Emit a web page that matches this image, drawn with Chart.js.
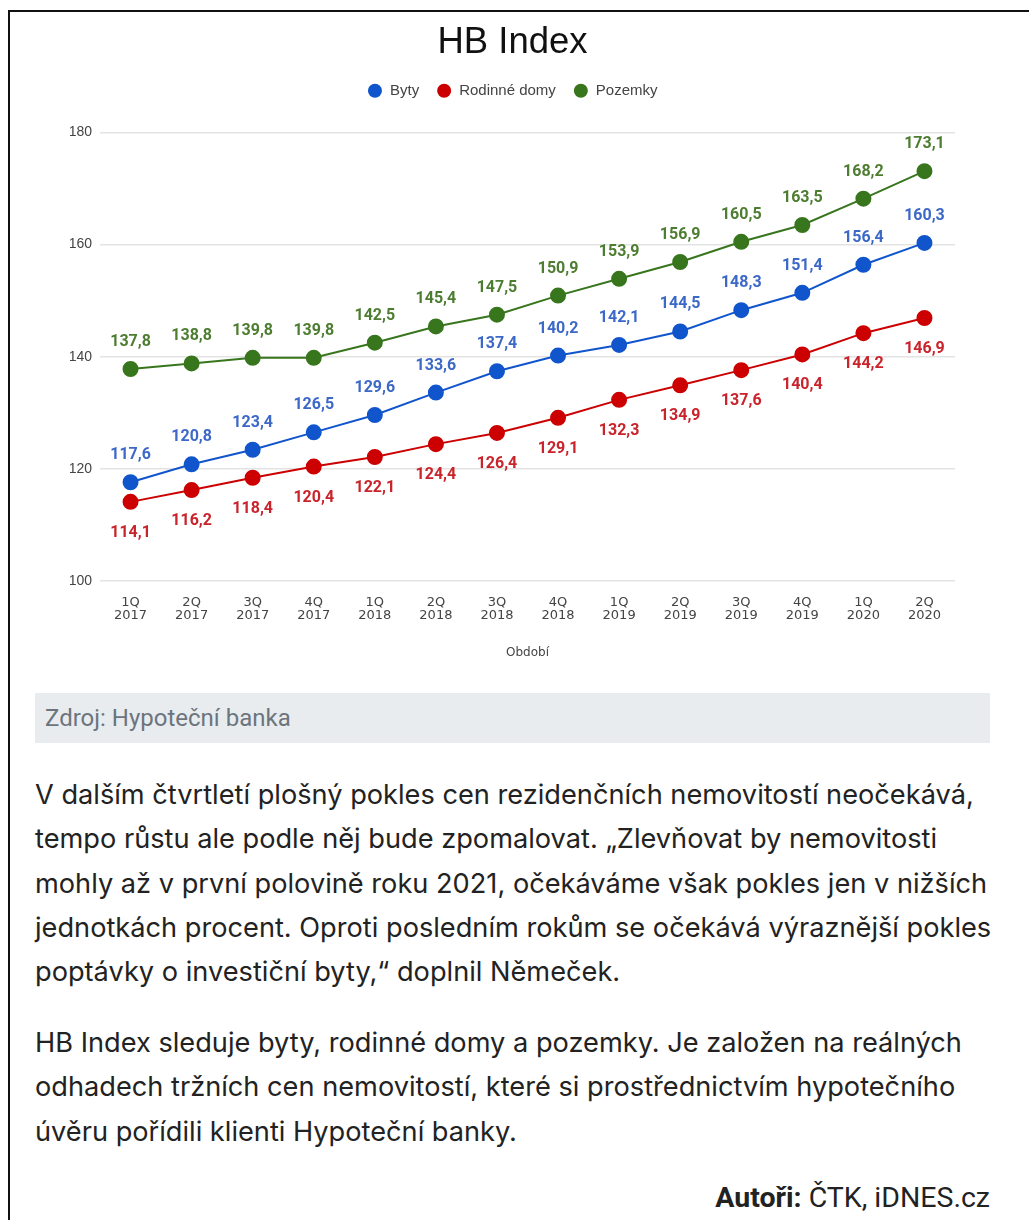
<!DOCTYPE html>
<html lang="cs">
<head>
<meta charset="utf-8">
<title>HB Index</title>
<script src="https://cdn.jsdelivr.net/npm/chart.js@4.4.1/dist/chart.umd.min.js"></script>
<style>
  html, body { margin:0; padding:0; background:#fff; }
  body { width:1029px; height:1220px; position:relative; overflow:hidden; }
  .frame { position:absolute; left:8px; top:10px; right:-10px; bottom:-10px;
           border-top:2px solid #111; border-left:2px solid #111; }
  .chart-box { position:absolute; left:35px; top:15px; width:955px; height:660px; }
  .source { position:absolute; left:35px; top:693px; width:955px; height:50px;
            background:#e9ecef; color:#6c757d; font-family:"Liberation Sans Narrow", Roboto, sans-serif;
            font-size:24px; line-height:50px; box-sizing:border-box; padding-left:10px; }
  .para { position:absolute; left:35px; font-family:Inter, "Noto Sans", sans-serif;
          font-size:27.2px; line-height:44.3px; color:#222; white-space:nowrap; margin:0; }
  .authors { position:absolute; right:39px; top:1180px; font-family:Roboto, sans-serif;
             font-size:28.5px; line-height:36px; color:#222; }
  .authors b { font-weight:700; }
</style>
</head>
<body>
<div class="frame"></div>
<div class="chart-box"><canvas id="hbChart"></canvas></div>
<div class="source">Zdroj: Hypoteční banka</div>
<p class="para" style="top:773px">V dalším čtvrtletí plošný pokles cen rezidenčních nemovitostí neočekává,<br>tempo růstu ale podle něj bude zpomalovat. „Zlevňovat by nemovitosti<br>mohly až v první polovině roku 2021, očekáváme však pokles jen v nižších<br>jednotkách procent. Oproti posledním rokům se očekává výraznější pokles<br>poptávky o investiční byty,“ doplnil Němeček.</p>
<p class="para" style="top:1021px">HB Index sleduje byty, rodinné domy a pozemky. Je založen na reálných<br>odhadech tržních cen nemovitostí, které si prostřednictvím hypotečního<br>úvěru pořídili klienti Hypoteční banky.</p>
<div class="authors"><b>Autoři:</b> ČTK, iDNES.cz</div>

<script>
/* =======================
   DATA
======================= */
const quarters = ['1Q','2Q','3Q','4Q','1Q','2Q','3Q','4Q','1Q','2Q','3Q','4Q','1Q','2Q'];
const years = ['2017','2017','2017','2017','2018','2018','2018','2018','2019','2019','2019','2019','2020','2020'];
const byty = [117.6, 120.8, 123.4, 126.5, 129.6, 133.6, 137.4, 140.2, 142.1, 144.5, 148.3, 151.4, 156.4, 160.3];
const rodinneDomy = [114.1, 116.2, 118.4, 120.4, 122.1, 124.4, 126.4, 129.1, 132.3, 134.9, 137.6, 140.4, 144.2, 146.9];
const pozemky = [137.8, 138.8, 139.8, 139.8, 142.5, 145.4, 147.5, 150.9, 153.9, 156.9, 160.5, 163.5, 168.2, 173.1];
const yTicks = [100, 120, 140, 160, 180];

const labels = quarters.map((q, i) => [q, years[i]]);

// value labels next to each point (no datalabels plugin offline)
const pointLabels = {
  id: 'pointLabels',
  afterDatasetsDraw(chart) {
    const ctx = chart.ctx;
    ctx.save();
    ctx.font = 'bold 16px Roboto, sans-serif';
    ctx.textAlign = 'center';
    ctx.textBaseline = 'middle';
    chart.data.datasets.forEach((ds, i) => {
      const meta = chart.getDatasetMeta(i);
      if (meta.hidden) return;
      ctx.fillStyle = ds.labelColor;
      meta.data.forEach((pt, j) => {
        const txt = ds.data[j].toFixed(1).replace('.', ',');
        ctx.fillText(txt, pt.x, pt.y + ds.labelOffset);
      });
    });
    ctx.restore();
  }
};

function series(label, data, color, labelColor, labelOffset) {
  return {
    label, data,
    borderColor: color, backgroundColor: color,
    borderWidth: 2, pointRadius: 7, pointHoverRadius: 7,
    pointBorderColor: color, pointBackgroundColor: color,
    tension: 0, labelColor, labelOffset
  };
}

new Chart(document.getElementById('hbChart'), {
  type: 'line',
  data: {
    labels,
    datasets: [
      series('Byty', byty, '#1155cc', '#3c68c8', -27),
      series('Rodinné domy', rodinneDomy, '#cc0000', '#c9232b', 31),
      series('Pozemky', pozemky, '#38761d', '#4d7d30', -27)
    ]
  },
  plugins: [pointLabels],
  options: {
    responsive: true,
    maintainAspectRatio: false,
    animation: false,
    layout: { padding: { left: 35, right: 35, top: 0, bottom: 0 } },
    plugins: {
      title: {
        display: true, text: 'HB Index', color: '#111',
        font: { family: 'Liberation Sans, Arial, sans-serif', size: 36.5, weight: 'normal' },
        padding: { top: 6, bottom: 1 }
      },
      // empty subtitle under the legend, only used as a spacer
      subtitle: {
        display: true, text: '', weight: 500,
        font: { size: 1 }, padding: { top: 23, bottom: 0 }
      },
      legend: {
        position: 'top',
        labels: {
          usePointStyle: true, pointStyle: 'circle', boxWidth: 15, boxHeight: 8.5,
          color: '#444', padding: 17.5,
          font: { family: 'Liberation Sans, Arial, sans-serif', size: 15 }
        }
      },
      tooltip: { enabled: false }
    },
    scales: {
      x: {
        offset: true,
        grid: { display: false },
        border: { display: false },
        ticks: { color: '#444', font: { family: 'DejaVu Sans, sans-serif', size: 13, lineHeight: 0.95 },
                 maxRotation: 0, padding: 8 },
        title: { display: true, text: 'Období', color: '#444',
                 font: { family: 'DejaVu Sans, sans-serif', size: 12 }, padding: { top: 16, bottom: 15 } }
      },
      y: {
        min: 100, max: 180,
        afterBuildTicks: (scale) => { scale.ticks = yTicks.map(v => ({ value: v })); },
        afterFit: (scale) => { scale.width = 30; },
        grid: { color: '#e3e3e3', lineWidth: 1.5, drawTicks: false },
        border: { display: false },
        ticks: { color: '#444', padding: 8, font: { family: 'Liberation Sans, Arial, sans-serif', size: 14 } }
      }
    }
  }
});
</script>
</body>
</html>
